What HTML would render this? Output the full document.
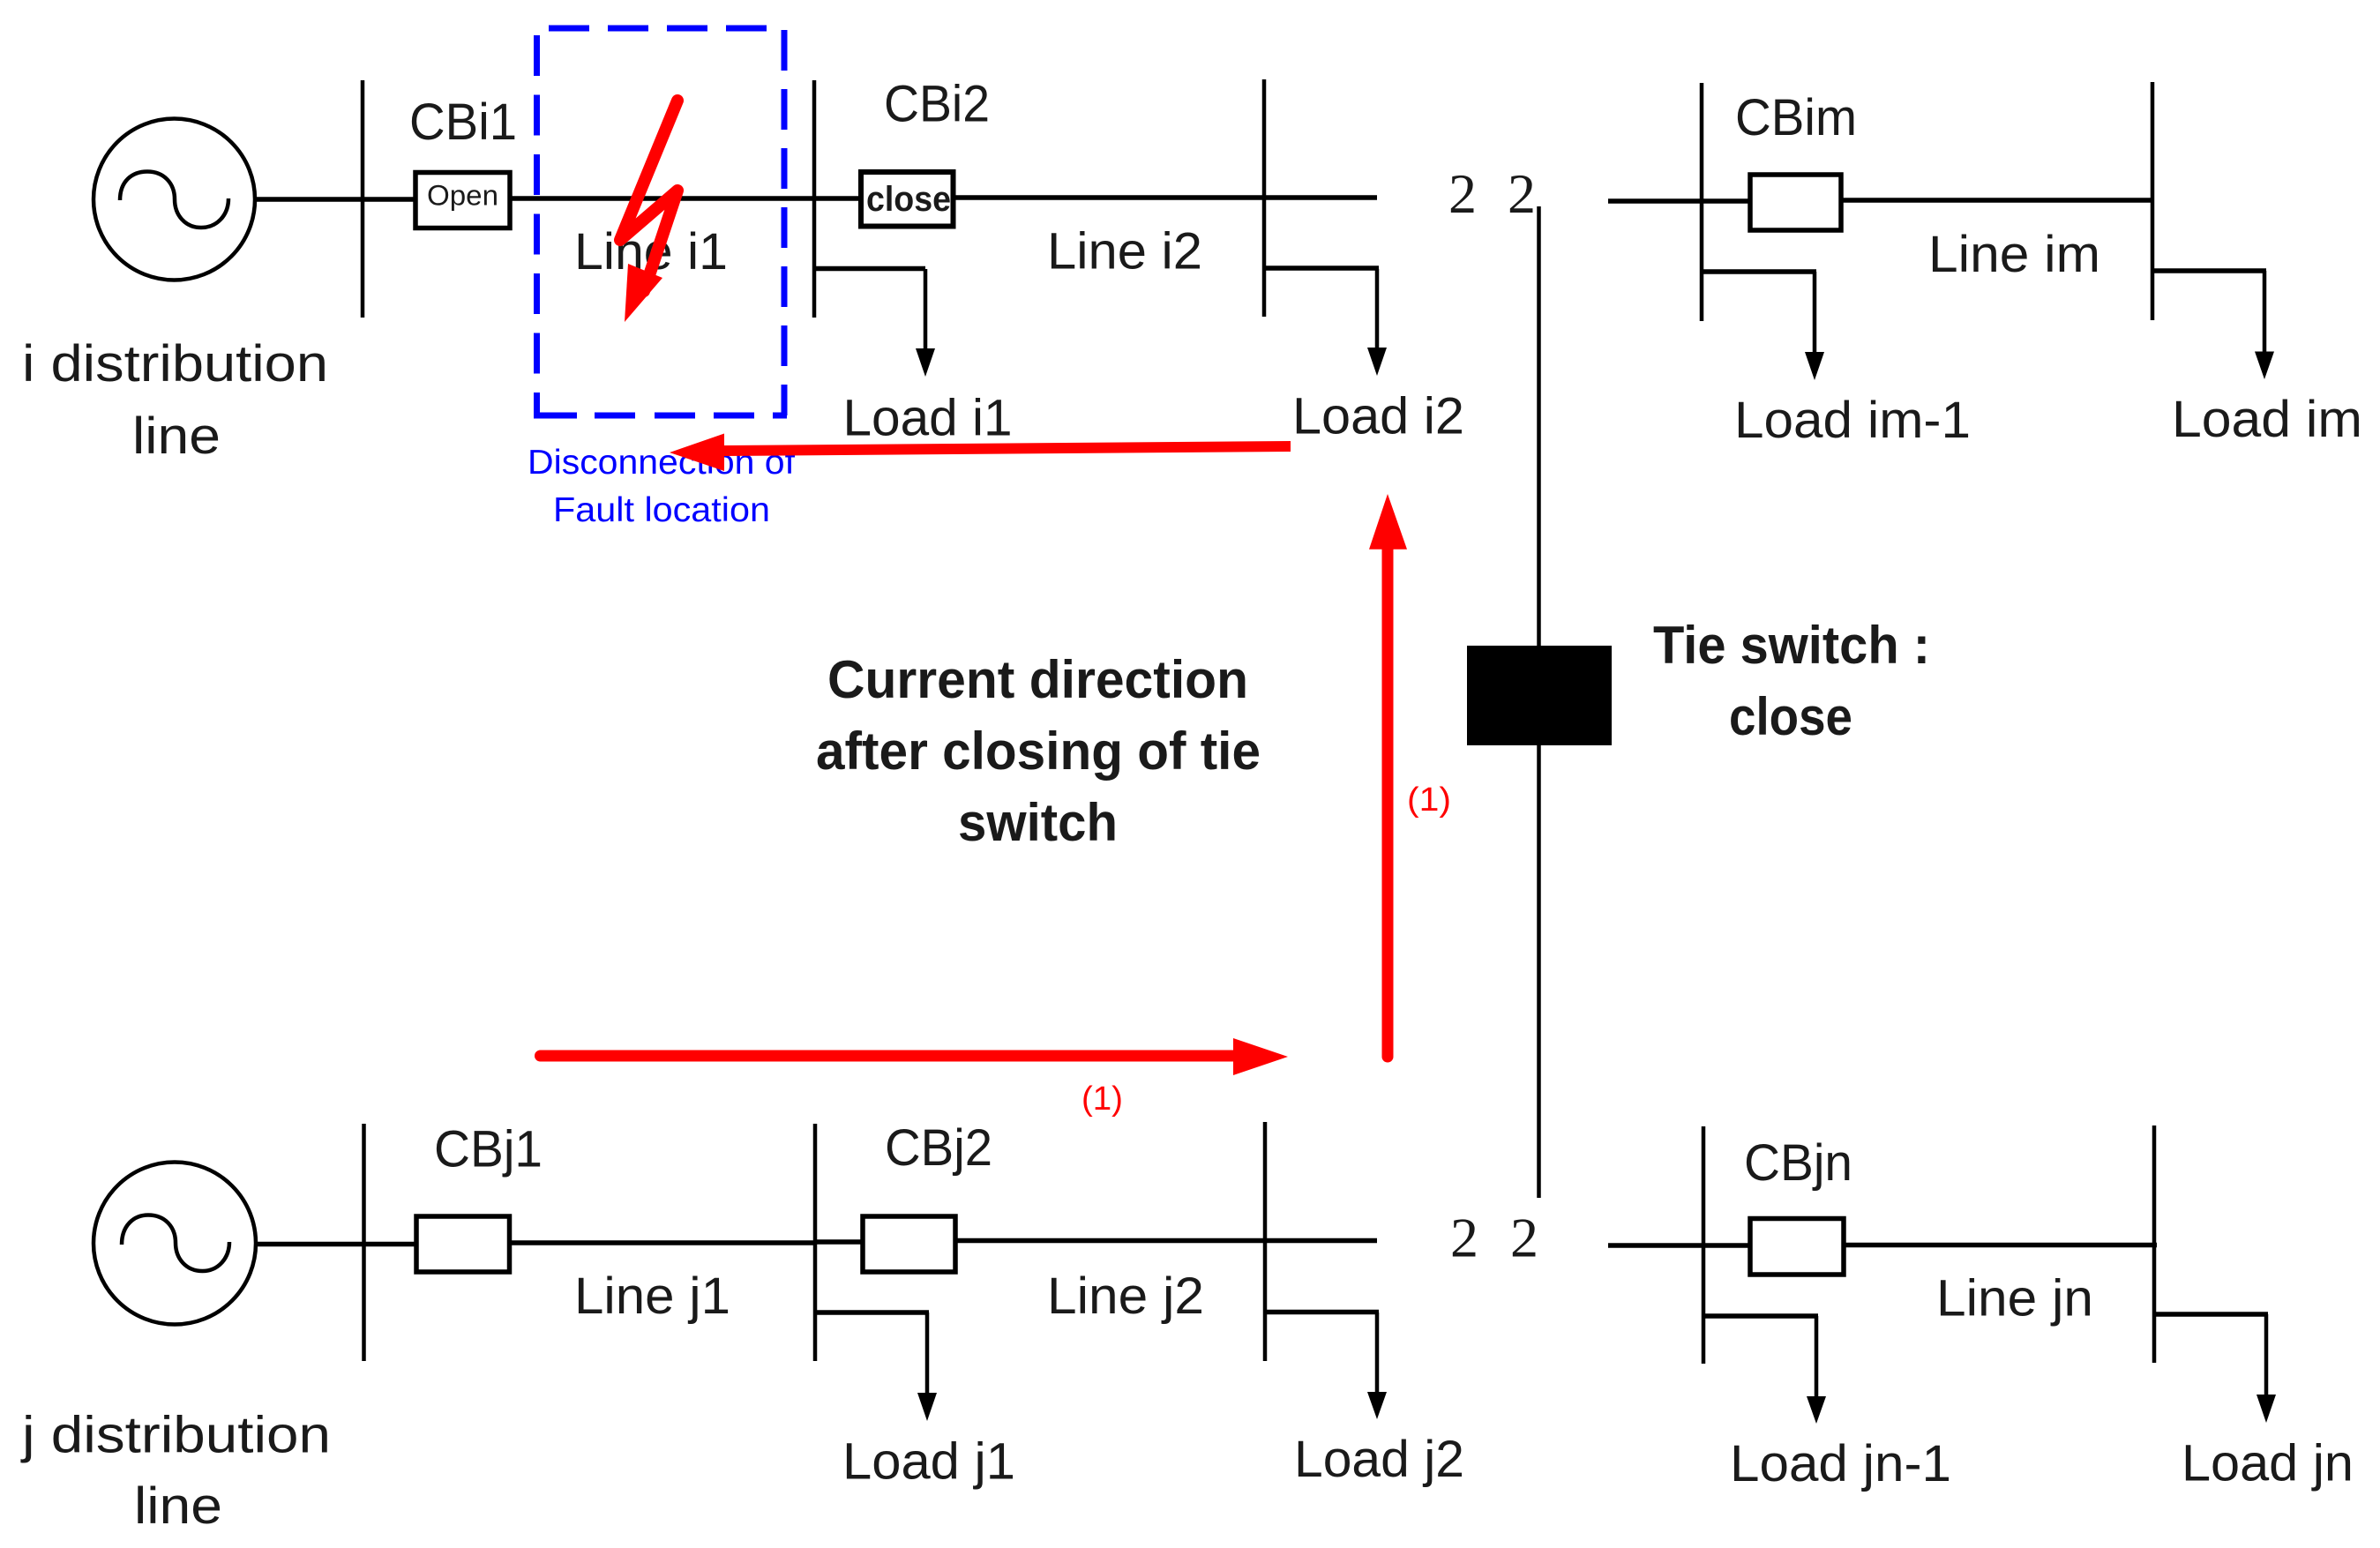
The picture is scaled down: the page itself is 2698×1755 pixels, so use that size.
<!DOCTYPE html>
<html><head><meta charset="utf-8"><style>
html,body{margin:0;padding:0;background:#fff}
svg{display:block}
text{font-family:"Liberation Sans",sans-serif;fill:#1a1a1a;font-size:58px}
.b{font-weight:bold;font-size:60px}
.bl{fill:#0000ff;font-size:39px}
.r{fill:#ff0000;font-size:38px}
.n{font-family:"Liberation Serif",serif;font-size:64px}
</style></head><body>
<svg width="2698" height="1755" viewBox="0 0 2698 1755" xmlns="http://www.w3.org/2000/svg">
<rect width="2698" height="1755" fill="#fff"/>
<g fill="none" stroke="#000" stroke-width="4.5">
<circle cx="197.500" cy="226" r="91.500"/>
<path d="M136 227C136 205 150 194.500 167 194.500C186 194.500 198 208 198 226C198 244 210 258 228 258C246 258 259 244 259 225"/>
<circle cx="198" cy="1409.500" r="92"/>
<path d="M138 1411C138 1389 152 1377.500 168 1377.500C187 1377.500 199 1391 199 1409C199 1427 211 1441 229.500 1441C247 1441 260 1427 260 1408"/>
<path d="M411 91V360M923 91V360M1433 90V359M1929 94V364M2440 93V363M1744.500 234V1358"/>
<path d="M412.500 1274V1543M924 1274V1543M1434 1272V1543M1931 1277V1546M2442 1276V1545"/>
<path d="M1049 305V400M1561 305V400M2057 308V404M2567 307V404M1051 1488V1584M1561 1488V1584M2059 1492V1588M2569 1490V1586"/>
</g>
<g fill="none" stroke="#000" stroke-width="5.500">
<path d="M289 226H472M578 225H976M1081 224H1561M1823 228H1983M2088 227H2442"/>
<path d="M923 304.500H1049M1433 304H1563M1929 308H2059M2440 307H2569"/>
<path d="M291 1410.500H471M578 1409H924M924 1408H977M1084 1406.500H1561M1823 1412H1983M2091 1411.500H2445"/>
<path d="M924 1488H1053M1434 1487.500H1563M1931 1492H2061M2442 1490H2571"/>
<rect x="471" y="195.500" width="107" height="63"/>
<rect x="1984" y="198" width="103" height="63"/>
<rect x="472" y="1379" width="105.500" height="63"/>
<rect x="978" y="1379" width="105" height="63"/>
<rect x="1984" y="1381.500" width="106" height="63.500"/>
</g>
<rect x="976" y="195" width="104.500" height="61.500" fill="none" stroke="#000" stroke-width="6"/>
<g fill="#000">
<path d="M1038 395H1060L1049 427ZM1550 394H1572L1561 426ZM2046 399H2068L2057 431ZM2556 398.500H2578L2567 430Z"/>
<path d="M1040 1579H1062L1051 1611ZM1550 1578H1572L1561 1609ZM2048 1583H2070L2059 1614ZM2558 1581H2580L2569 1613Z"/>
<rect x="1663" y="732" width="164" height="113"/>
</g>
<g fill="none" stroke="#0000ff" stroke-width="7">
<path d="M608.500 40V471" stroke-dasharray="46 21.500"/>
<path d="M622 32H870" stroke-dasharray="46 21"/>
<path d="M889 34V471" stroke-dasharray="46 21"/>
<path d="M605 471H892" stroke-dasharray="49 20 46 22 46 21 46 21"/>
</g>
<text x="651" y="305" textLength="174" lengthAdjust="spacingAndGlyphs">Line i1</text>
<g fill="none" stroke="#ff0000" stroke-width="14" stroke-linecap="round" stroke-linejoin="round">
<path d="M768 114L703 272L768 216L730 330"/>
</g>
<path fill="#ff0000" d="M712 299L751 315L708 365Z"/>
<path fill="#ff0000" d="M1573 560L1595 622.700H1579.500V1198A6.500 6.500 0 0 1 1566.500 1198V622.700H1552Z"/>
<path fill="#ff0000" d="M606 1197A6.500 6.500 0 0 1 612.500 1190.500H1398V1177L1460 1198L1398 1219V1203.500H612.500A6.500 6.500 0 0 1 606 1197Z"/>
<text x="464" y="158" textLength="122" lengthAdjust="spacingAndGlyphs">CBi1</text>
<text x="1002" y="137.500" textLength="120" lengthAdjust="spacingAndGlyphs">CBi2</text>
<text x="1967" y="153" textLength="138" lengthAdjust="spacingAndGlyphs">CBim</text>
<text x="1187" y="304.500" textLength="176" lengthAdjust="spacingAndGlyphs">Line i2</text>
<text x="2186" y="308" textLength="195" lengthAdjust="spacingAndGlyphs">Line im</text>
<text x="25" y="432" textLength="347" lengthAdjust="spacingAndGlyphs">i distribution</text>
<text x="150" y="514" textLength="100" lengthAdjust="spacingAndGlyphs">line</text>
<text x="955.500" y="493.500" textLength="192" lengthAdjust="spacingAndGlyphs">Load i1</text>
<text x="1465" y="491.500" textLength="195" lengthAdjust="spacingAndGlyphs">Load i2</text>
<text x="1966" y="496" textLength="268" lengthAdjust="spacingAndGlyphs">Load im-1</text>
<text x="2462" y="495" textLength="216" lengthAdjust="spacingAndGlyphs">Load im</text>
<text x="484" y="232.500" textLength="81" lengthAdjust="spacingAndGlyphs" style="font-size:32px">Open</text>
<text x="982" y="239" textLength="96" lengthAdjust="spacingAndGlyphs" style="font-size:40px;font-weight:bold">close</text>
<text class="n" x="1642" y="241">2</text>
<text class="n" x="1709" y="241">2</text>
<text class="n" x="1644" y="1424.500">2</text>
<text class="n" x="1712" y="1424.500">2</text>
<text class="bl" x="598" y="537" textLength="303" lengthAdjust="spacingAndGlyphs">Disconnection of</text>
<text class="bl" x="627" y="591" textLength="246" lengthAdjust="spacingAndGlyphs">Fault location</text>
<path fill="#ff0000" d="M1463 500L821 505V491.500L759 513L821 534V517L1463 512Z"/>
<text class="b" x="938" y="791" textLength="477" lengthAdjust="spacingAndGlyphs">Current direction</text>
<text class="b" x="925" y="872" textLength="504" lengthAdjust="spacingAndGlyphs">after closing of tie</text>
<text class="b" x="1086" y="953" textLength="181" lengthAdjust="spacingAndGlyphs">switch</text>
<text class="b" x="1874" y="752" textLength="314" lengthAdjust="spacingAndGlyphs">Tie switch :</text>
<text class="b" x="1960" y="833" textLength="140" lengthAdjust="spacingAndGlyphs">close</text>
<text class="r" x="1595" y="919" textLength="50" lengthAdjust="spacingAndGlyphs">(1)</text>
<text class="r" x="1226" y="1258" textLength="47" lengthAdjust="spacingAndGlyphs">(1)</text>
<text x="492" y="1322.500" textLength="123" lengthAdjust="spacingAndGlyphs">CBj1</text>
<text x="1003" y="1321" textLength="122" lengthAdjust="spacingAndGlyphs">CBj2</text>
<text x="1977" y="1338" textLength="123" lengthAdjust="spacingAndGlyphs">CBjn</text>
<text x="651" y="1489" textLength="177" lengthAdjust="spacingAndGlyphs">Line j1</text>
<text x="1187" y="1489" textLength="178" lengthAdjust="spacingAndGlyphs">Line j2</text>
<text x="2195" y="1491.500" textLength="178" lengthAdjust="spacingAndGlyphs">Line jn</text>
<text x="25" y="1646.500" textLength="350" lengthAdjust="spacingAndGlyphs">j distribution</text>
<text x="152" y="1727" textLength="100" lengthAdjust="spacingAndGlyphs">line</text>
<text x="955" y="1676.500" textLength="196" lengthAdjust="spacingAndGlyphs">Load j1</text>
<text x="1467" y="1674" textLength="193" lengthAdjust="spacingAndGlyphs">Load j2</text>
<text x="1961" y="1679" textLength="251" lengthAdjust="spacingAndGlyphs">Load jn-1</text>
<text x="2473" y="1678.500" textLength="195" lengthAdjust="spacingAndGlyphs">Load jn</text>
</svg>
</body></html>
